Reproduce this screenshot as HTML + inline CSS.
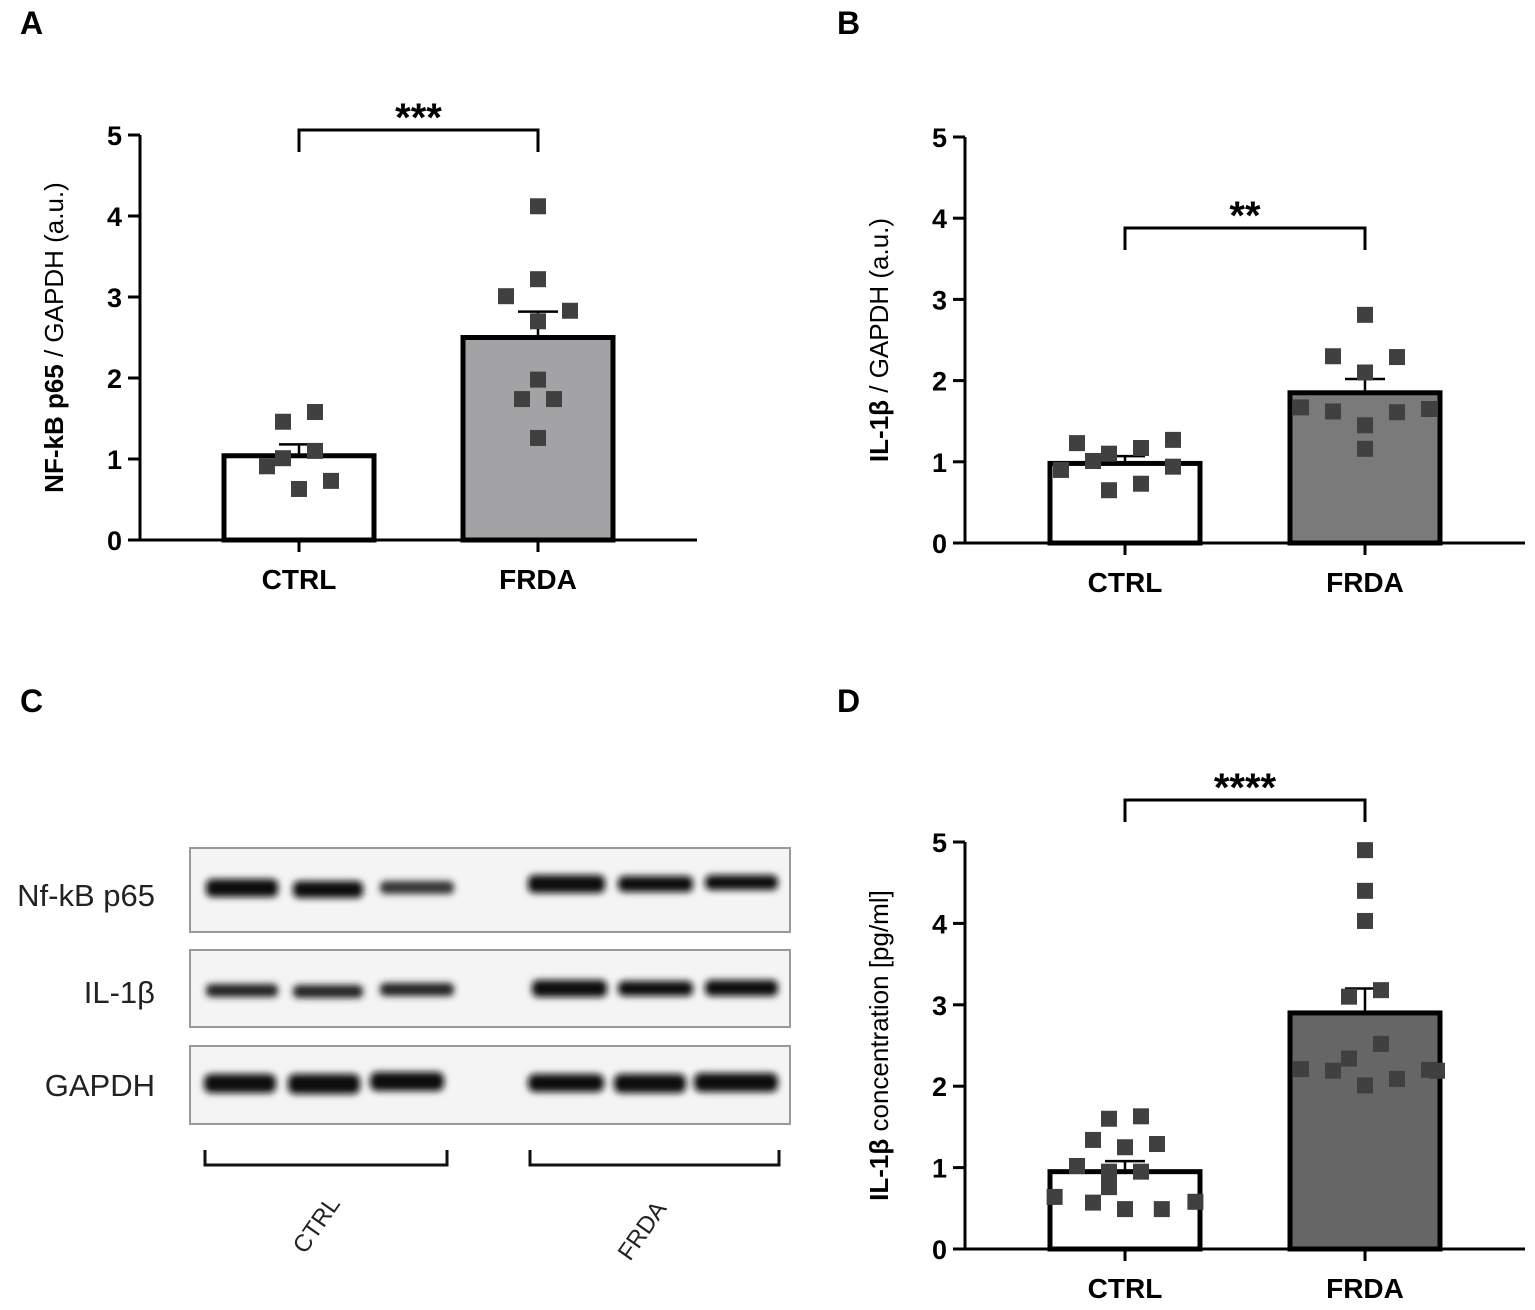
<!DOCTYPE html>
<html><head><meta charset="utf-8"><style>
body{margin:0;background:#fff}
svg text{font-family:"Liberation Sans",sans-serif}
</style></head><body>
<svg id="fig" width="1535" height="1305" viewBox="0 0 1535 1305" xmlns="http://www.w3.org/2000/svg">
<defs><filter id="blur" x="-20%" y="-200%" width="140%" height="500%"><feGaussianBlur stdDeviation="3.5"/></filter></defs>
<g id="panels"></g>
<g id="blot">
 <text x="20" y="712" font-size="32" font-weight="bold">C</text>
 <rect x="190" y="848" width="600" height="84" fill="#f4f4f4" stroke="#999" stroke-width="2"/>
 <rect x="190" y="950" width="600" height="77" fill="#f4f4f4" stroke="#999" stroke-width="2"/>
 <rect x="190" y="1046" width="600" height="78" fill="#f4f4f4" stroke="#999" stroke-width="2"/>
 <g filter="url(#blur)" fill="#111">
  <rect x="206" y="879" width="72" height="18" rx="6"/><rect x="293" y="881" width="70" height="17" rx="6"/><rect x="380" y="881" width="74" height="13" rx="5" fill="#333"/>
  <rect x="528" y="875" width="77" height="18" rx="6"/><rect x="618" y="876" width="75" height="16" rx="6"/><rect x="705" y="875" width="73" height="15" rx="6"/>
  <rect x="206" y="984" width="72" height="13" rx="5" fill="#222"/><rect x="293" y="985" width="70" height="13" rx="5" fill="#222"/><rect x="380" y="983" width="74" height="13" rx="5" fill="#222"/>
  <rect x="532" y="980" width="75" height="17" rx="6"/><rect x="618" y="981" width="75" height="15" rx="6"/><rect x="705" y="980" width="73" height="16" rx="6"/>
  <rect x="204" y="1074" width="72" height="19" rx="7"/><rect x="288" y="1074" width="72" height="20" rx="7"/><rect x="370" y="1072" width="74" height="19" rx="7"/>
  <rect x="528" y="1074" width="76" height="18" rx="7"/><rect x="614" y="1074" width="72" height="19" rx="7"/><rect x="694" y="1073" width="84" height="19" rx="7"/>
 </g>
 <text x="155" y="906" font-size="31" text-anchor="end" fill="#222">Nf-kB p65</text>
 <text x="155" y="1003" font-size="31" text-anchor="end" fill="#222">IL-1β</text>
 <text x="155" y="1096" font-size="31" text-anchor="end" fill="#222">GAPDH</text>
 <path d="M205 1150 V1165 H447 V1150 M530 1150 V1165 H779 V1150" fill="none" stroke="#111" stroke-width="3"/>
 <text transform="translate(305 1255) rotate(-55)" font-size="24" fill="#222">CTRL</text>
 <text transform="translate(630 1262) rotate(-55)" font-size="24" fill="#222">FRDA</text>
</g>
</svg>
<script>
const aMeans=[1.04,2.5], aErr=[1.18,2.82];
const aCtrl=[1.46,1.58,0.91,1.01,1.1,0.63,0.73];
const aCtrlX=[-1,1,-2,-1,1,0,2];
const aFrda=[4.12,3.22,3.01,2.83,2.7,1.98,1.74,1.74,1.26];
const aFrdaX=[0,0,-2,2,0,0,-1,1,0];
const bMeans=[0.98,1.85], bErr=[1.07,2.02];
const bCtrl=[1.23,1.1,1.17,1.27,0.9,1.01,0.94,0.65,0.73];
const bCtrlX=[-3,-1,1,3,-4,-2,3,-1,1];
const bFrda=[2.81,2.3,2.29,2.1,1.67,1.62,1.61,1.65,1.45,1.16];
const bFrdaX=[0,-2,2,0,-4,-2,2,4,0,0];
const dMeans=[0.95,2.9], dErr=[1.08,3.2];
const dCtrl=[1.6,1.63,1.34,1.25,1.29,1.02,0.95,0.95,0.76,0.64,0.57,0.49,0.49,0.58];
const dCtrlX=[-1,1,-2,0,2,-3,-1,1,-1,-4.4,-2,0,2.3,4.4];
const dFrda=[4.9,4.4,4.03,3.1,3.18,2.52,2.34,2.21,2.19,2.2,2.01,2.09,2.19];
const dFrdaX=[0,0,0,-1,1,1,-1,-4,-2,4,0,2,4.5];
const yTicks=[0,1,2,3,4,5];
const cats=["CTRL","FRDA"];
const NS="http://www.w3.org/2000/svg";
const root=document.getElementById('panels');
function mk(tag,at,parent){const e=document.createElementNS(NS,tag);for(const k in at)e.setAttribute(k,at[k]);(parent||root).appendChild(e);return e;}
function panel(o){
 const g=mk('g',{});
 
 
 const y=v=>o.y0-(o.y0-o.y5)*v/5;
 const cx=[o.ax+(o.c1),o.ax+(o.c2)];
 [0,1].forEach(i=>{
  const r=mk('rect',{x:cx[i]-75,y:y(o.means[i]),width:150,height:y(0)-y(o.means[i]),fill:i?o.fill:'#fff',stroke:'#000','stroke-width':5},g);
  
  
  const e=mk('path',{d:`M${cx[i]} ${y(o.means[i])} V${y(o.err[i])} M${cx[i]-20} ${y(o.err[i])} H${cx[i]+20}`,stroke:'#000','stroke-width':2.5,fill:'none'},g);
  
  
 });
 const pts=[[o.ctrl,o.ctrlX,0],[o.frda,o.frdaX,1]];
 pts.forEach(([vals,xs,i])=>vals.forEach((v,j)=>{
  const p=mk('rect',{x:cx[i]+xs[j]*16-8,y:y(v)-8,width:16,height:16,fill:'#404040'},g);
  
  
 }));
 const ax=mk('path',{d:`M${o.ax} ${y(5)} V${y(0)} H${o.xEnd}`,stroke:'#000','stroke-width':3,fill:'none'},g);
 
 
 yTicks.forEach(t=>{
  mk('line',{x1:o.ax-12,x2:o.ax,y1:y(t),y2:y(t),stroke:'#000','stroke-width':3},g);
  const tx=mk('text',{x:o.ax-18,y:y(t)+10,'font-size':27,'font-weight':'bold','text-anchor':'end'},g);tx.textContent=t;
  
  
 });
 cats.forEach((c,i)=>{
  mk('line',{x1:cx[i],x2:cx[i],y1:y(0),y2:y(0)+12,stroke:'#000','stroke-width':3},g);
  const tx=mk('text',{x:cx[i],y:y(0)+49,'font-size':28,'font-weight':'bold','text-anchor':'middle'},g);tx.textContent=c;
  
  
 });
 const yt=mk('text',{transform:`translate(${o.ax-77} ${(y(0)+y(5))/2}) rotate(-90)`,'font-size':26,'text-anchor':'middle'},g);
 yt.innerHTML=o.ytitle;
 
 
 const br=mk('path',{d:`M${cx[0]} ${o.brY+22} V${o.brY} H${cx[1]} V${o.brY+22}`,stroke:'#000','stroke-width':3,fill:'none'},g);
 
 
 const st=mk('text',{x:(cx[0]+cx[1])/2,y:o.brY+1,'font-size':40,'font-weight':'bold','text-anchor':'middle'},g);st.textContent=o.stars;
 
 
}
panel({name:'panel-a',ax:140,xEnd:697,c1:159,c2:398,y0:540,y5:135,means:aMeans,err:aErr,ctrl:aCtrl,ctrlX:aCtrlX,frda:aFrda,frdaX:aFrdaX,fill:'#a3a3a6',brY:130,stars:'***',ytitle:'<tspan font-weight="bold">NF-kB p65</tspan> / GAPDH (a.u.)'});
panel({name:'panel-b',ax:965,xEnd:1525,c1:160,c2:400,y0:543,y5:137,means:bMeans,err:bErr,ctrl:bCtrl,ctrlX:bCtrlX,frda:bFrda,frdaX:bFrdaX,fill:'#7a7a7a',brY:228,stars:'**',ytitle:'<tspan font-weight="bold">IL-1β</tspan> / GAPDH (a.u.)'});
panel({name:'panel-d',ax:965,xEnd:1525,c1:160,c2:400,y0:1249,y5:842,means:dMeans,err:dErr,ctrl:dCtrl,ctrlX:dCtrlX,frda:dFrda,frdaX:dFrdaX,fill:'#666666',brY:800,stars:'****',ytitle:'<tspan font-weight="bold">IL-1β</tspan> concentration [pg/ml]'});
[['A',20,34],['B',837,34],['D',837,712]].forEach(([l,xx,yy])=>{const t=mk('text',{x:xx,y:yy,'font-size':32,'font-weight':'bold'});t.textContent=l;
 
 });
</script>
</body></html>
